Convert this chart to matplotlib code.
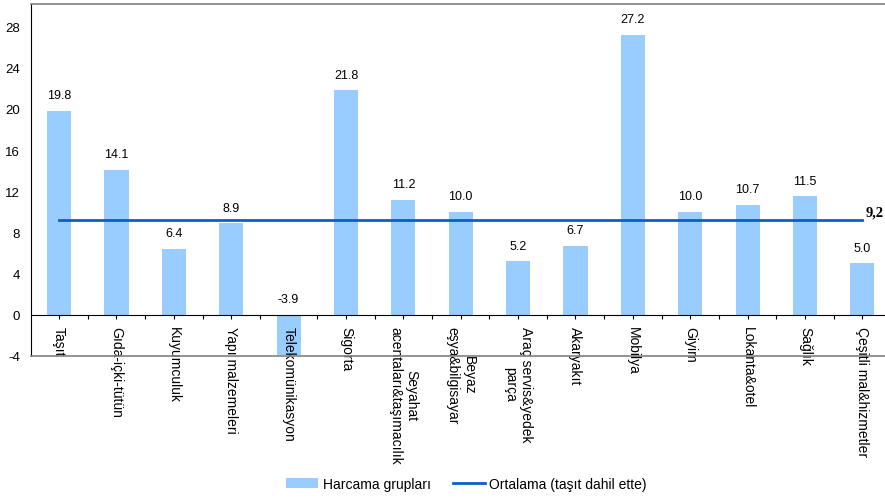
import numpy as np
import matplotlib
matplotlib.use('Agg')
import matplotlib.pyplot as plt
from matplotlib.lines import Line2D
from matplotlib.patches import Patch

plt.rcParams['font.family'] = ['Liberation Sans', 'DejaVu Sans']

# data
categories = ["Taşıt", "Gıda-içki-tütün", "Kuyumculuk", "Yapı malzemeleri",
              "Telekomünikasyon", "Sigorta", "Seyahat\nacentaları&taşımacılık",
              "Beyaz\neşya&bilgisayar", "Araç servis&yedek\nparça", "Akaryakıt",
              "Mobilya", "Giyim", "Lokanta&otel", "Sağlık", "Çeşitli mal&hizmetler"]
values = [19.8, 14.1, 6.4, 8.9, -3.9, 21.8, 11.2, 10.0, 5.2, 6.7, 27.2, 10.0, 10.7, 11.5, 5.0]
average = 9.2
yticks = [-4, 0, 4, 8, 12, 16, 20, 24, 28]

bar_color = '#99CCFF'
line_color = '#0A5FC8'

fig = plt.figure(figsize=(8.85, 5.02), dpi=100)
ax = fig.add_axes([31 / 885, 145 / 502, (891 - 31) / 885, (357 - 5) / 502])

x = np.arange(len(categories))
ax.bar(x, values, width=0.42, color=bar_color, zorder=2)
ax.plot([x[0], x[-1]], [average, average], color=line_color, lw=2.0, zorder=3)
ax.text(x[-1] + 0.05, average + 0.15, "9,2", family='Liberation Serif', fontweight='bold',
        fontsize=10.5, va='bottom', ha='left')

for i, v in enumerate(values):
    ax.annotate(f"{v:.1f}", xy=(i, max(v, 0)), xytext=(0, 7), textcoords='offset points',
                ha='center', va='bottom', fontsize=9)

for i, c in enumerate(categories):
    ax.annotate(c, xy=(i, 0), xytext=(0, -8), textcoords='offset points',
                ha='center', va='top', rotation=-90, multialignment='center',
                fontsize=10, annotation_clip=False, zorder=3)

ax.set_xlim(-0.49, 14.49)
ax.set_ylim(-4, 30.2)
ax.set_yticks(yticks)
ax.set_yticklabels([str(t) for t in yticks], fontsize=9.5)
ax.tick_params(axis='y', length=0, pad=8)

ax.set_xticks(x)
ax.set_xticks(x + 0.5, minor=True)
ax.set_xticklabels([])
ax.tick_params(axis='x', which='both', direction='out', length=3, width=0.8, color='black')

ax.spines['bottom'].set_position(('data', 0))
ax.spines['bottom'].set_color('black')
ax.spines['bottom'].set_zorder(4)
ax.spines['left'].set_color('black')
ax.spines['top'].set_color('#808080')
ax.spines['top'].set_linewidth(1.2)
ax.spines['right'].set_visible(False)
ax.axhline(-4, color='#808080', lw=1.2, clip_on=False, zorder=5)

handles = [Patch(facecolor=bar_color, edgecolor='none'),
           Line2D([0], [0], color=line_color, lw=2.0)]
fig.legend(handles, ["Harcama grupları", "Ortalama (taşıt dahil ette)"],
           loc='lower center', bbox_to_anchor=(0.527, -0.005), ncol=2, frameon=False,
           fontsize=10, handlelength=2.3, handletextpad=0.3, columnspacing=1.6)

fig.savefig('out.png', dpi=100)
